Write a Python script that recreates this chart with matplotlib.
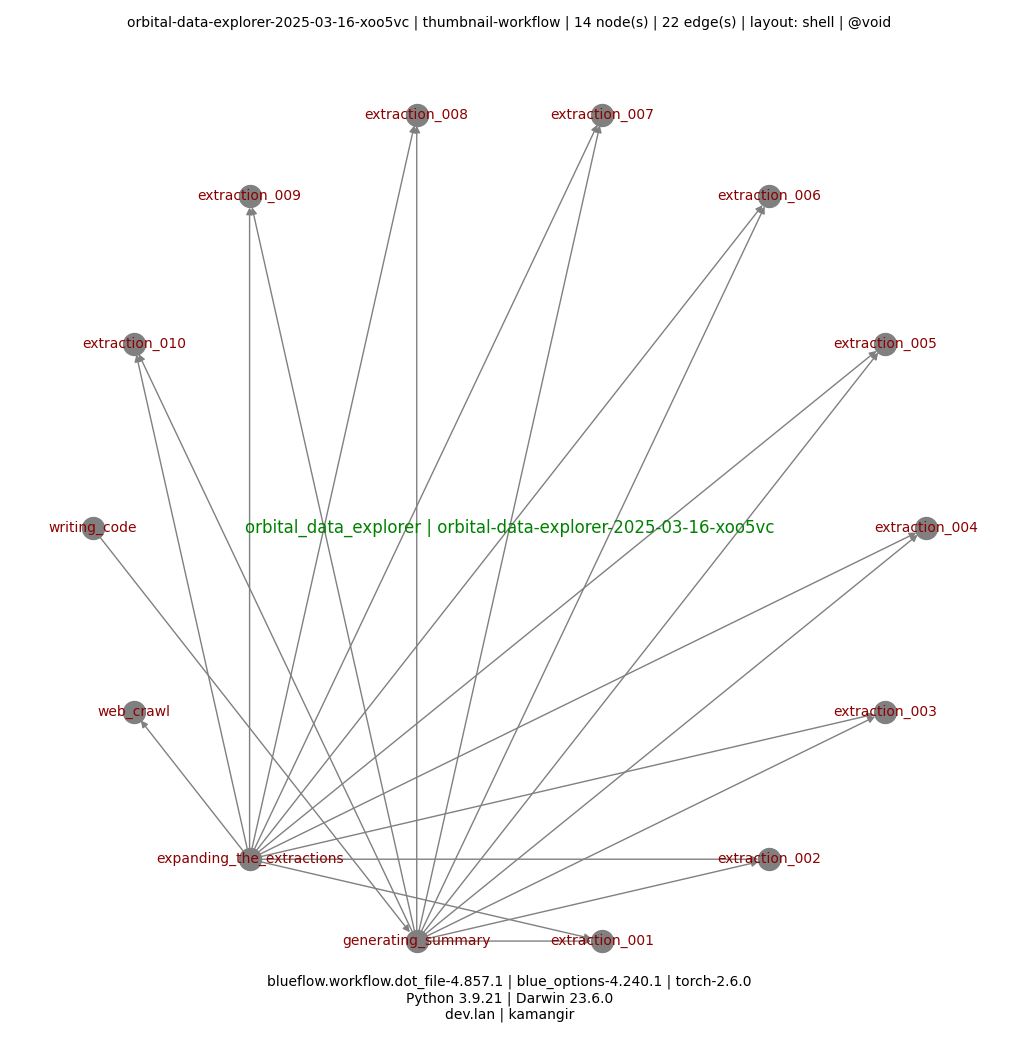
import numpy as np
import matplotlib
matplotlib.use("Agg")
import matplotlib.pyplot as plt
from matplotlib.patches import FancyArrowPatch

nodes = ["generating_summary", "extraction_001", "extraction_002", "extraction_003",
         "extraction_004", "extraction_005", "extraction_006", "extraction_007",
         "extraction_008", "extraction_009", "extraction_010", "writing_code",
         "web_crawl", "expanding_the_extractions"]
extractions = ["extraction_%03d" % i for i in range(1, 11)]
edges = ([("expanding_the_extractions", e) for e in extractions]
         + [("expanding_the_extractions", "web_crawl")]
         + [("generating_summary", e) for e in extractions]
         + [("writing_code", "generating_summary")])

n = len(nodes)
pos = {}
for i, name in enumerate(nodes):
    a = -np.pi / 2 - np.pi / 14 + 2 * np.pi * i / n
    pos[name] = (np.cos(a), np.sin(a))

fig = plt.figure(figsize=(10.19, 10.39), dpi=100)
ax = fig.add_axes([0.05, 0.062, 0.9, 0.86])
ax.set_xlim(-1.1, 1.1)
ax.set_ylim(-1.054, 1.054)
ax.axis("off")

for u, v in edges:
    x1, y1 = pos[u]; x2, y2 = pos[v]
    ar = FancyArrowPatch((x1, y1), (x2, y2), arrowstyle="-|>", mutation_scale=10,
                         color="gray", lw=1, shrinkA=8, shrinkB=8)
    ax.add_patch(ar)
xs = [pos[k][0] for k in nodes]; ys = [pos[k][1] for k in nodes]
ax.scatter(xs, ys, s=250, c="gray", zorder=3)
for k in nodes:
    ax.text(pos[k][0], pos[k][1], k, color="darkred", fontsize=10, ha="center", va="center", zorder=4)

ax.text(0.0, 0, "orbital_data_explorer | orbital-data-explorer-2025-03-16-xoo5vc",
        color="green", fontsize=12, ha="center", va="center")
fig.text(0.5, 0.985, "orbital-data-explorer-2025-03-16-xoo5vc | thumbnail-workflow | 14 node(s) | 22 edge(s) | layout: shell | @void",
         ha="center", va="top", fontsize=10)
fig.text(0.5, 0.062, "blueflow.workflow.dot_file-4.857.1 | blue_options-4.240.1 | torch-2.6.0\nPython 3.9.21 | Darwin 23.6.0\ndev.lan | kamangir",
         ha="center", va="top", fontsize=10, linespacing=1.2)
fig.savefig("out.png", dpi=100)
